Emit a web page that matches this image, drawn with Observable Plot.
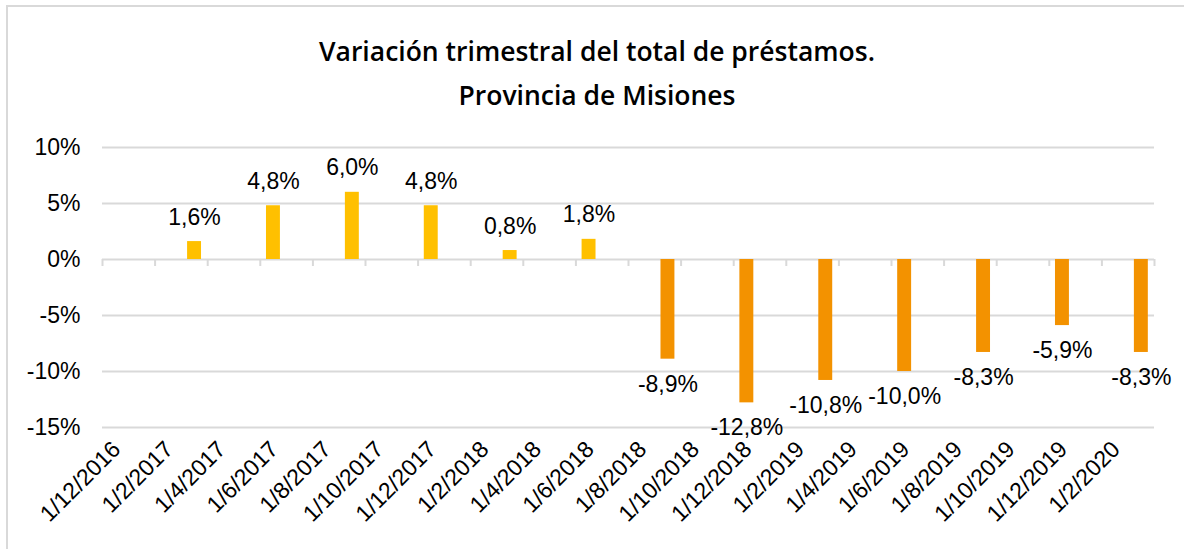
<!DOCTYPE html>
<html>
<head>
<meta charset="utf-8">
<script src="https://cdn.jsdelivr.net/npm/d3@7"></script>
<script src="https://cdn.jsdelivr.net/npm/@observablehq/plot@0.6"></script>
<style>
  html, body { margin: 0; padding: 0; background: #fff; }
  #wrap { position: relative; width: 1184px; height: 549px; overflow: hidden; background: #fff; }
  #frame { position: absolute; left: 6px; top: 5px; width: 1200px; height: 600px; border: 2px solid #d9d9d9; box-sizing: border-box; }
  #title { position: absolute; left: 10px; width: 1174px; top: 29px; text-align: center;
           font-family: "Open Sans", "Noto Sans", sans-serif; font-weight: 600; font-size: 26.5px; line-height: 44px; color: #000; }
  #plot { position: absolute; left: 0; top: 130px; }
  #plot svg, #plot svg text { font-family: "Liberation Sans", Arial, sans-serif !important; }
</style>
</head>
<body>
<div id="wrap">
  <div id="frame"></div>
  <div id="title">Variación trimestral del total de préstamos.<br>Provincia de Misiones</div>
  <div id="plot"></div>
</div>
<script>
// Bars: quarter months and their values (%)
const barMonths = ["2017-03","2017-06","2017-09","2017-12","2018-03","2018-06","2018-09","2018-12","2019-03","2019-06","2019-09","2019-12","2020-03"];
const barValues = [1.6, 4.8, 6.0, 4.8, 0.8, 1.8, -8.9, -12.8, -10.8, -10.0, -8.3, -5.9, -8.3];

// Axis tick positions (every other month) and their labels
const tickMonths = ["2016-12","2017-02","2017-04","2017-06","2017-08","2017-10","2017-12","2018-02","2018-04","2018-06","2018-08","2018-10","2018-12","2019-02","2019-04","2019-06","2019-08","2019-10","2019-12","2020-02"];
const tickLabels = ["1/12/2016","1/2/2017","1/4/2017","1/6/2017","1/8/2017","1/10/2017","1/12/2017","1/2/2018","1/4/2018","1/6/2018","1/8/2018","1/10/2018","1/12/2018","1/2/2019","1/4/2019","1/6/2019","1/8/2019","1/10/2019","1/12/2019","1/2/2020"];

const yTicks = [-15, -10, -5, 0, 5, 10];

const posColor = "#FFC000";
const negColor = "#F39200";
const gridColor = "#d9d9d9";

// monthly date axis domain (Dec 2016 .. Mar 2020)
const fmtKey = d3.utcFormat("%Y-%m");
const allMonths = d3.utcMonths(new Date(Date.UTC(2016, 11, 1)), new Date(Date.UTC(2020, 3, 1))).map(fmtKey);

const data = barMonths.map((m, i) => ({month: m, value: barValues[i]}));
const labelOf = Object.fromEntries(tickMonths.map((m, i) => [m, tickLabels[i]]));

const W = 1184, H = 419, ML = 102, MR = 30, MT = 17, MB = 122;
const step = (W - ML - MR) / allMonths.length;
const fmtVal = v => v.toFixed(1).replace(".", ",") + "%";

const chart = Plot.plot({
  width: W,
  height: H,
  marginLeft: ML,
  marginRight: MR,
  marginTop: MT,
  marginBottom: MB,
  style: {fontFamily: "Liberation Sans, Arial, sans-serif", fontSize: "23px", color: "#000", background: "transparent"},
  x: {type: "band", domain: allMonths, paddingInner: 0.47, paddingOuter: 0.235, align: 0.5, round: false},
  y: {domain: [-15, 10]},
  marks: [
    Plot.ruleY(yTicks, {y: d => d, stroke: gridColor, strokeWidth: 2}),
    Plot.ruleX(tickMonths, {x: d => d, y1: 0, y2: 0, insetBottom: -7, dx: -step / 2, stroke: gridColor, strokeWidth: 2}),
    Plot.ruleX([allMonths[allMonths.length - 1]], {x: d => d, y1: 0, y2: 0, insetBottom: -7, dx: step / 2, stroke: gridColor, strokeWidth: 2}),
    Plot.barY(data, {x: "month", y: "value", fill: d => d.value >= 0 ? posColor : negColor}),
    Plot.text(data.filter(d => d.value >= 0), {x: "month", y: "value", text: d => fmtVal(d.value), dy: -17, lineAnchor: "bottom", fontSize: 23, fill: "#000"}),
    Plot.text(data.filter(d => d.value < 0), {x: "month", y: "value", text: d => fmtVal(d.value), dy: 16, lineAnchor: "top", fontSize: 23, fill: "#000"}),
    Plot.axisY(yTicks, {tickSize: 0, tickPadding: 22, tickFormat: d => d + "%", fontSize: 23, label: null}),
    Plot.axisX(tickMonths, {tickSize: 0, tickRotate: -45, tickPadding: 18, dx: 1, tickFormat: d => labelOf[d], fontSize: 23, label: null})
  ]
});
document.getElementById("plot").appendChild(chart);
</script>
</body>
</html>
